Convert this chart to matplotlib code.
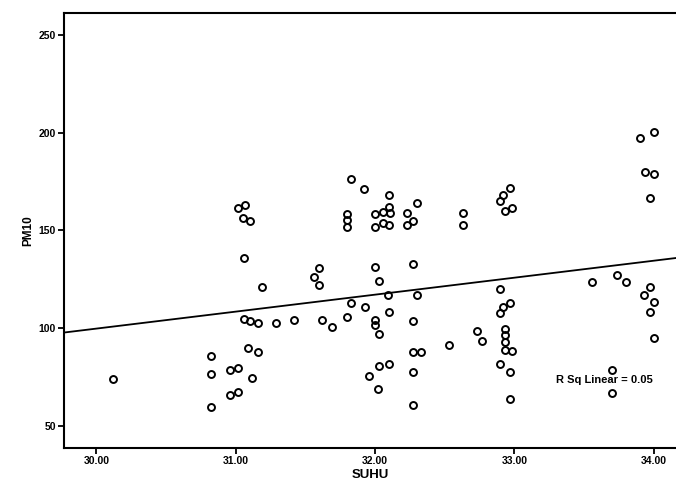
import numpy as np
import matplotlib
matplotlib.use('Agg')
from matplotlib import pyplot as plt

# SUHU (temperature) and PM10 values
suhu = [
    30.12, 30.82, 30.82, 30.82, 30.96, 31.02, 30.96, 31.02, 31.12, 31.09,
    31.16, 31.06, 31.19, 31.06, 31.10, 31.16, 31.29, 31.42, 31.62, 31.69,
    31.56, 31.60, 31.60, 31.02, 31.07, 31.05, 31.10,
    31.83, 31.92, 31.80, 31.80, 31.80, 32.00, 32.00, 32.10, 32.10, 32.06,
    32.11, 32.06, 32.10, 32.23, 32.27, 32.23, 32.30, 32.00, 32.03, 32.27,
    32.09, 32.30, 31.83, 31.93, 31.80, 32.00, 32.00, 32.03, 32.10, 32.27,
    32.27, 32.33, 32.03, 32.10, 31.96, 32.02, 32.27, 32.27,
    32.63, 32.63, 32.97, 32.92, 32.90, 32.98, 32.93,
    32.90, 32.97, 32.92, 32.90, 32.73, 32.77, 32.53, 32.93, 32.93, 32.93,
    32.93, 32.98, 32.90, 32.97, 32.97,
    33.90, 34.00, 33.94, 34.00, 33.97, 33.56, 33.74, 33.80, 33.97, 33.93,
    34.00, 33.97, 34.00, 33.70, 33.70,
]
pm10 = [
    74.0, 85.7, 76.5, 59.7, 78.6, 79.6, 65.8, 67.3, 74.5, 89.8,
    87.8, 135.7, 120.9, 104.6, 103.6, 102.6, 102.6, 104.0, 104.0, 100.5,
    126.0, 130.6, 122.0, 161.2, 162.8, 156.1, 154.6,
    176.5, 170.9, 158.2, 155.1, 151.5, 158.2, 151.5, 167.9, 162.2, 159.2,
    158.7, 154.0, 152.6, 158.7, 154.6, 153.0, 163.8, 131.1, 124.0, 132.7,
    116.8, 116.8, 112.8, 110.7, 105.6, 104.0, 101.5, 97.0, 108.2, 103.6,
    87.8, 87.8, 80.6, 81.6, 75.5, 68.9, 77.6, 60.7,
    158.7, 152.6, 171.9, 167.9, 164.8, 161.2, 159.7,
    119.9, 112.8, 110.7, 107.7, 98.5, 93.4, 91.3, 99.5, 96.4, 92.9,
    88.8, 88.3, 81.6, 77.6, 63.8,
    197.4, 200.5, 179.6, 178.6, 166.8, 123.5, 127.0, 123.5, 120.9, 116.8,
    113.3, 108.2, 94.9, 78.6, 66.8,
]
x_ticks = [30, 31, 32, 33, 34]
y_ticks = [50, 100, 150, 200, 250]
r_sq_label = 'R Sq Linear = 0.05'


def main():
    x = np.array(suhu)
    y = np.array(pm10)

    plt.rcParams['font.family'] = ['Liberation Sans', 'DejaVu Sans']
    fig = plt.figure(figsize=(6.76, 4.88), dpi=100)
    ax = fig.add_axes([0.095, 0.082, 0.905, 0.891])

    ax.plot(x, y, linestyle='none', marker='o', markersize=5,
            markerfacecolor='none', markeredgecolor='black', markeredgewidth=1.4)

    # Linear fit line across the full x range
    slope, intercept = np.polyfit(x, y, 1)
    xlim = (29.77, 34.16)
    xs = np.array(xlim)
    ax.plot(xs, slope * xs + intercept, color='black', linewidth=1.3)

    ax.set_xlim(*xlim)
    ax.set_ylim(38.8, 261)
    ax.set_xticks(x_ticks)
    ax.set_xticklabels([f'{t:.2f}' for t in x_ticks], fontsize=7.5, fontweight='bold')
    ax.set_yticks(y_ticks)
    ax.set_yticklabels([str(t) for t in y_ticks], fontsize=7.5, fontweight='bold')
    ax.tick_params(direction='out', length=4, width=1.3, pad=2)

    for side in ['left', 'top', 'bottom']:
        ax.spines[side].set_linewidth(1.5)
    ax.spines['right'].set_visible(False)

    ax.set_xlabel('SUHU', fontsize=9.5, fontweight='bold', labelpad=2)
    ax.set_ylabel('PM10', fontsize=8.5, fontweight='bold', labelpad=3)

    ax.text(33.30, 73.5, r_sq_label, fontsize=8, fontweight='bold', ha='left', va='center')

    fig.savefig('out.png', dpi=100)
    plt.close(fig)


if __name__ == '__main__':
    main()
